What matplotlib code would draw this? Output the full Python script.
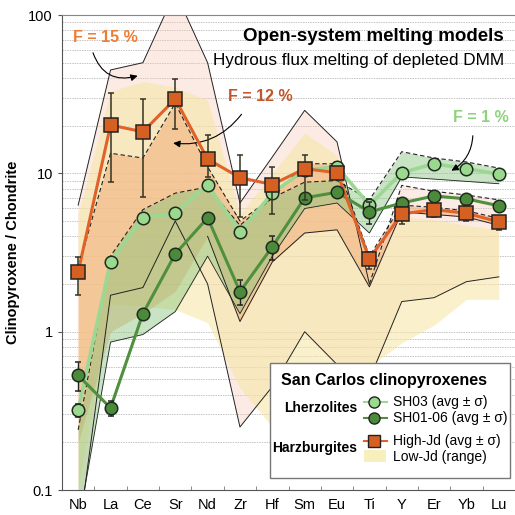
import numpy as np
import matplotlib
matplotlib.use("Agg")
import matplotlib.pyplot as plt
from matplotlib.lines import Line2D
from matplotlib.patches import Rectangle

plt.rcParams['font.family'] = ['Liberation Sans', 'DejaVu Sans']

elements = ['Nb', 'La', 'Ce', 'Sr', 'Nd', 'Zr', 'Hf', 'Sm', 'Eu', 'Ti', 'Y', 'Er', 'Yb', 'Lu']

# San Carlos cpx data (chondrite normalised)
sh03 = [0.32, 2.77, 5.24, 5.6, 8.46, 4.27, 7.5, 10.5, 11.0, 6.3, 10.1, 11.5, 10.7, 9.9]
sh03_err = [0.03, 0.2, 0.3, 0.3, 0.6, 0.3, 0.5, 0.6, 0.8, 0.6, 0.5, 0.5, 0.5, 0.5]
sh0106 = [0.53, 0.33, 1.30, 3.1, 5.24, 1.79, 3.44, 7.0, 7.6, 5.7, 6.5, 7.2, 6.9, 6.24]
sh0106_err = [0.11, 0.035, 0.08, 0.2, 0.35, 0.32, 0.6, 0.4, 0.5, 0.9, 0.4, 0.4, 0.4, 0.4]
highjd = [2.39, 20.2, 18.3, 29.5, 12.3, 9.4, 8.5, 10.7, 10.1, 2.89, 5.55, 5.9, 5.6, 4.94]
highjd_lo = [1.71, 8.8, 7.1, 19.1, 9.5, 5.3, 5.5, 6.8, 9.3, 2.5, 4.8, 5.3, 5.0, 4.4]
highjd_hi = [2.97, 32.2, 29.5, 39.5, 17.5, 13.1, 11.0, 13.1, 10.8, 3.2, 6.1, 6.5, 6.3, 5.4]
lowjd_max = [5.5, 33, 38, 35, 29, 5.5, 10, 18, 13, 2.5, 5.3, 5.1, 4.7, 4.4]
lowjd_min = [0.1, 1.5, 1.45, 1.38, 1.14, 0.44, 0.25, 0.4, 0.45, 0.6, 0.85, 1.1, 1.6, 1.6]

# model envelopes
f15_top = [6.3, 45, 50, 140, 50, 6.5, 12.7, 25, 15.8, 2.0, 8.4, 7.7, 7.3, 6.8]
f15_bot = [0.05, 1.7, 1.9, 5.0, 2.0, 0.25, 0.45, 1.0, 0.62, 0.5, 1.55, 1.64, 2.07, 2.22]
f12_top = [2.5, 13.4, 12.5, 27.7, 11, 5.0, 7.0, 11.5, 11.5, 3.0, 6.3, 6.1, 5.8, 5.2]
f12_bot = [0.2, 1.0, 1.3, 1.8, 4.0, 1.16, 2.76, 4.2, 4.4, 1.92, 5.7, 5.5, 5.3, 4.7]
f1_top = [0.24, 3.0, 5.9, 7.5, 8.2, 4.7, 7.0, 8.8, 9.0, 6.8, 13.7, 12.5, 11.8, 10.8]
f1_bot = [0.06, 0.86, 0.96, 1.34, 3.0, 1.3, 3.0, 6.0, 6.5, 4.2, 9.5, 9.2, 8.9, 8.6]

x = np.arange(len(elements))

fig = plt.figure(figsize=(5.15, 5.15), dpi=100)
ax = fig.add_axes([0.1204, 0.0485, 0.8796, 0.9223])
ax.set_yscale('log')
ax.set_xlim(-0.5, 13.5)
ax.set_ylim(0.1, 100)

# grid
for dec in [0.1, 1, 10]:
    for m in range(1, 10):
        v = dec * m
        if 0.1 < v < 100:
            ax.axhline(v, color='#c4c4c4', lw=0.7, ls=(0, (1.5, 1)), zorder=0.5)

# fills
ax.fill_between(x, f15_bot, f15_top, color='#f8c6b2', alpha=0.35, lw=0, zorder=1)
ax.fill_between(x, lowjd_min, lowjd_max, color='#f6e6a2', alpha=0.55, lw=0, zorder=1.1)
ax.fill_between(x, f12_bot, f12_top, color='#f0a870', alpha=0.5, lw=0, zorder=1.2)
ax.fill_between(x, f1_bot, f1_top, color='#86c47c', alpha=0.45, lw=0, zorder=1.3)

# envelope lines
ax.plot(x[:10], f15_top[:10], color='#222222', lw=0.7, zorder=2)
ax.plot(x[9:], f15_top[9:], color='#222222', lw=0.8, ls=(0, (4, 2.5)), zorder=2)
ax.plot(x, f15_bot, color='#222222', lw=0.7, zorder=2)
ax.plot(x, f12_top, color='#222222', lw=0.8, ls=(0, (4, 2.5)), zorder=2)
ax.plot(x[4:], f12_bot[4:], color='#222222', lw=0.7, zorder=2)
ax.plot(x, f1_top, color='#222222', lw=0.8, ls=(0, (4, 2.5)), zorder=2)
ax.plot(x, f1_bot, color='#222222', lw=0.6, zorder=2)

# data series
ax.plot(x, sh03, color='#9cd894', lw=2.6, zorder=3)
ax.errorbar(x, sh03, yerr=sh03_err, fmt='o', ms=9, mfc='#9ad98e', mec='#1f2a1f',
            mew=1.1, ecolor='#222222', elinewidth=1, capsize=2.5, zorder=4)
ax.plot(x, sh0106, color='#4f8f3e', lw=2.2, zorder=3.1)
ax.errorbar(x, sh0106, yerr=sh0106_err, fmt='o', ms=9, mfc='#4b8a3b', mec='#1f2a1f',
            mew=1.1, ecolor='#222222', elinewidth=1, capsize=2.5, zorder=4.1)
hj_err = [np.array(highjd) - np.array(highjd_lo), np.array(highjd_hi) - np.array(highjd)]
ax.plot(x, highjd, color='#e0622a', lw=2.2, zorder=3.2)
ax.errorbar(x, highjd, yerr=hj_err, fmt='s', ms=9.5, mfc='#d65f22', mec='#222222',
            mew=1.1, ecolor='#333322', elinewidth=1.1, capsize=2.5, zorder=4.2)

# axes styling
ax.set_xticks(x)
ax.set_xticklabels(elements, fontsize=10.5)
ax.set_xticks(np.arange(-0.5, 13.6, 1), minor=True)
ax.tick_params(axis='x', which='major', length=0, pad=6)
ax.tick_params(axis='x', which='minor', direction='in', length=3, color='#777777')
ax.set_yticks([0.1, 1, 10, 100])
ax.set_yticklabels(['0.1', '1', '10', '100'], fontsize=10.5)
ax.yaxis.set_minor_locator(matplotlib.ticker.NullLocator())
ax.tick_params(axis='y', which='major', length=3, color='#555555')
ax.spines['right'].set_visible(False)
ax.spines['top'].set_color('#888888')
for s in ['left', 'bottom']:
    ax.spines[s].set_color('#555555')
ax.set_ylabel('Clinopyroxene / Chondrite', fontsize=10.5, fontweight='bold', labelpad=6)

# titles
ax.text(0.975, 0.955, 'Open-system melting models', transform=ax.transAxes,
        ha='right', va='center', fontsize=13.5, fontweight='bold')
ax.text(0.975, 0.905, 'Hydrous flux melting of depleted DMM', transform=ax.transAxes,
        ha='right', va='center', fontsize=12.3)

# F labels and arrows
ax.text(0.84, 72, 'F = 15 %', color='#f07c34', fontsize=11.5, fontweight='bold',
        ha='center', va='center')
ax.annotate('', xy=(1.92, 41.8), xytext=(0.43, 60),
            arrowprops=dict(arrowstyle='-|>', color='k', lw=0.8, mutation_scale=10,
                            connectionstyle='arc3,rad=0.5'))
ax.text(5.63, 30.4, 'F = 12 %', color='#c0562a', fontsize=11.5, fontweight='bold',
        ha='center', va='center')
ax.annotate('', xy=(2.85, 15.6), xytext=(5.1, 24.4),
            arrowprops=dict(arrowstyle='-|>', color='k', lw=0.8, mutation_scale=10,
                            connectionstyle='arc3,rad=-0.3'))
ax.text(12.45, 22.4, 'F = 1 %', color='#8ed27e', fontsize=11.5, fontweight='bold',
        ha='center', va='center')
ax.annotate('', xy=(11.46, 10.2), xytext=(12.2, 18),
            arrowprops=dict(arrowstyle='-|>', color='k', lw=0.8, mutation_scale=10,
                            connectionstyle='arc3,rad=-0.3'))

# legend box (hand made, grouped)
tr = ax.transAxes
ax.add_patch(Rectangle((0.459, 0.025), 0.53, 0.242, transform=tr, facecolor='white',
                       edgecolor='#777777', lw=1, zorder=10))
ax.text(0.483, 0.23, 'San Carlos clinopyroxenes', transform=tr, fontsize=11.5,
        fontweight='bold', va='center', zorder=11)
ax.text(0.652, 0.172, 'Lherzolites', transform=tr, fontsize=10, fontweight='bold',
        ha='right', va='center', zorder=11)
ax.text(0.652, 0.088, 'Harzburgites', transform=tr, fontsize=10, fontweight='bold',
        ha='right', va='center', zorder=11)
leg_items = [(0.185, '#9cd894', 'o', '#9ad98e'),
             (0.151, '#4f8f3e', 'o', '#4b8a3b'),
             (0.103, '#e0622a', 's', '#d65f22')]
for yy, lc, mk, fc in leg_items:
    ax.add_line(Line2D([0.666, 0.718], [yy, yy], transform=tr, color=lc, lw=1.5, zorder=11))
    ax.add_line(Line2D([0.689], [yy], transform=tr, marker=mk, ms=8, mfc=fc,
                       mec='#222222', ls='none', zorder=12))
ax.add_patch(Rectangle((0.666, 0.058), 0.05, 0.026, transform=tr, facecolor='#f8f0bc',
                       edgecolor='none', zorder=11))
ax.text(0.731, 0.185, 'SH03 (avg ± σ)', transform=tr, fontsize=10, va='center', zorder=11)
ax.text(0.731, 0.151, 'SH01-06 (avg ± σ)', transform=tr, fontsize=10, va='center', zorder=11)
ax.text(0.731, 0.103, 'High-Jd (avg ± σ)', transform=tr, fontsize=10, va='center', zorder=11)
ax.text(0.731, 0.069, 'Low-Jd (range)', transform=tr, fontsize=10, va='center', zorder=11)

fig.savefig('out.png', dpi=100)
